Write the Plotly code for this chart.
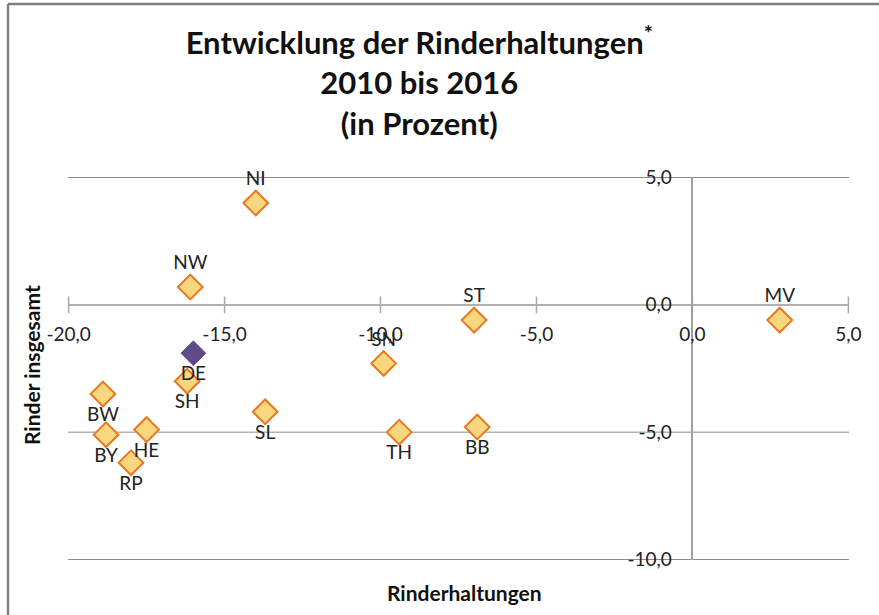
import plotly.graph_objects as go

# Veraenderung 2010 bis 2016 in Prozent
laender = ['NI', 'NW', 'ST', 'MV', 'SN', 'SH', 'BW', 'SL', 'HE', 'TH', 'BB', 'BY', 'RP']
haltungen = [-14.0, -16.1, -7.0, 2.8, -9.9, -16.2, -18.9, -13.7, -17.5, -9.4, -6.9, -18.8, -18.0]
rinder = [4.0, 0.7, -0.6, -0.6, -2.3, -3.0, -3.5, -4.2, -4.9, -5.0, -4.8, -5.1, -6.2]
label_pos = ['top center', 'top center', 'top center', 'top center', 'top center',
             'bottom center', 'bottom center', 'bottom center', 'bottom center',
             'bottom center', 'bottom center', 'bottom center', 'bottom center']

de_name = 'DE'
de_haltungen = -16.0
de_rinder = -1.9

x_ticks = [-20, -15, -10, -5, 0, 5]
y_ticks = [-10, -5, 0, 5]


def fmt(v):
    return f'{v:.1f}'.replace('.', ',')


font_main = 'Lato'
lbl_size = 19

data = [
    # tick marks crossing the x axis line
    go.Scatter(x=x_ticks, y=[0] * len(x_ticks), mode='markers', hoverinfo='skip',
               marker=dict(symbol='line-ns', size=12, line=dict(color='#a8a8a8', width=1.5)),
               showlegend=False, cliponaxis=False),
    go.Scatter(x=haltungen, y=rinder, text=laender, mode='markers+text',
               textposition=label_pos, textfont=dict(family=font_main, size=lbl_size, color='#222222'),
               marker=dict(symbol='diamond', size=19, color='#F9D77E',
                           line=dict(color='#E87722', width=2)),
               showlegend=False, cliponaxis=False),
    go.Scatter(x=[de_haltungen], y=[de_rinder], text=[de_name], mode='markers+text',
               textposition='bottom center', textfont=dict(family=font_main, size=lbl_size, color='#222222'),
               marker=dict(symbol='diamond', size=19, color='#5F4B8B',
                           line=dict(color='#5F4B8B', width=1)),
               showlegend=False, cliponaxis=False),
]

# horizontal grid lines
shapes = [dict(type='line', xref='paper', yref='y', x0=0, x1=1, y0=v, y1=v, layer='below',
               line=dict(color='#8c8c8c', width=1)) for v in y_ticks if v != 0]
# outer frame
shapes += [
    dict(type='line', xref='paper', yref='paper', x0=(8 - 68) / 781, x1=(8 - 68) / 781,
         y0=(560 - 615) / 383, y1=(560 - 4) / 383, line=dict(color='#808080', width=2.5)),
    dict(type='line', xref='paper', yref='paper', x0=(8 - 68) / 781, x1=(879 - 68) / 781,
         y0=(560 - 4) / 383, y1=(560 - 4) / 383, line=dict(color='#808080', width=2.5)),
]

layout = go.Layout(
    width=879, height=615,
    margin=dict(l=68, r=30, t=177, b=55),
    paper_bgcolor='white', plot_bgcolor='white',
    font=dict(family=font_main, size=lbl_size, color='#222222'),
    title=dict(text='<b>Entwicklung der Rinderhaltungen<sup>*</sup><br>2010 bis 2016<br>(in Prozent)</b>',
               x=0.477, xanchor='center', y=0.912, yanchor='top',
               font=dict(family=font_main, size=31, color='#111111')),
    xaxis=dict(range=[-20.02, 5.02], tickvals=x_ticks, ticktext=[fmt(v) for v in x_ticks],
               automargin=False, anchor='free', position=10.02 / 15.04, side='bottom',
               showgrid=False, zeroline=False, showline=True,
               linecolor='#b0b0b0', linewidth=2, ticks='', ticklabelstandoff=12,
               tickfont=dict(family=font_main, size=lbl_size, color='#222222')),
    yaxis=dict(range=[-10.02, 5.02], tickvals=y_ticks, ticktext=[fmt(v) for v in y_ticks],
               automargin=False, anchor='free', position=20.02 / 25.04,
               showgrid=False, zeroline=False,
               showline=True, linecolor='#a0a0a0', linewidth=1.5, ticks='',
               ticklabelstandoff=16,
               tickfont=dict(family=font_main, size=lbl_size, color='#222222')),
    annotations=[
        dict(text='<b>Rinderhaltungen</b>', xref='paper', yref='paper', x=(464 - 68) / 781,
             y=-0.085, xanchor='center', yanchor='middle', showarrow=False,
             font=dict(family=font_main, size=21, color='#111111')),
        dict(text='<b>Rinder insgesamt</b>', xref='paper', yref='paper', x=(31 - 68) / 781,
             y=(560 - 365) / 383, xanchor='center', yanchor='middle', showarrow=False,
             textangle=-90, font=dict(family=font_main, size=21, color='#111111')),
    ],
    shapes=shapes,
)

fig = go.Figure(data=data, layout=layout)
fig.write_html('out.html', config={'displayModeBar': False},
               post_script="document.body.style.margin='0';")
